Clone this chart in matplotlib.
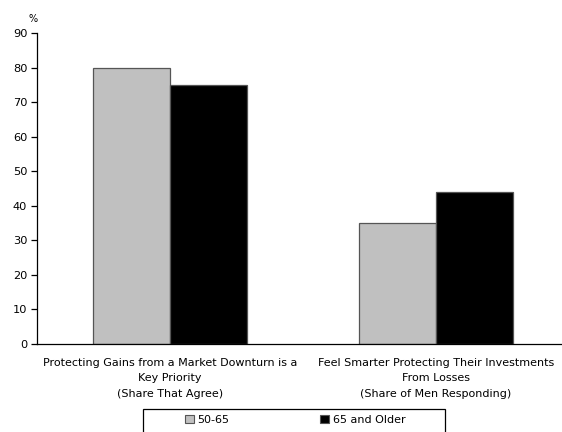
import matplotlib
matplotlib.use("Agg")
import matplotlib.pyplot as plt
import numpy as np
from matplotlib.patches import Rectangle, Patch

categories = [
    "Protecting Gains from a Market Downturn is a\nKey Priority\n(Share That Agree)",
    "Feel Smarter Protecting Their Investments\nFrom Losses\n(Share of Men Responding)",
]
series_names = ["50-65", "65 and Older"]
values_50_65 = [80, 35]
values_65_older = [75, 44]
yticks = [0, 10, 20, 30, 40, 50, 60, 70, 80, 90]

W, H = 562, 432
fig = plt.figure(figsize=(W / 100, H / 100), dpi=100)
plt.rcParams["font.family"] = ["DejaVu Sans"]

ax = fig.add_axes([37 / W, (H - 344) / H, 532 / W, 310.7 / H])

x = np.arange(len(categories))
bw = 0.29
ax.bar(x - bw / 2, values_50_65, bw, color="#c0c0c0", edgecolor="#555555",
       linewidth=0.9, label=series_names[0])
ax.bar(x + bw / 2, values_65_older, bw, color="#000000", edgecolor="#555555",
       linewidth=0.9, label=series_names[1])

ax.set_xlim(-0.5, 1.5)
ax.set_ylim(0, 90)
ax.set_yticks(yticks)
ax.set_xticks(x)
ax.set_xticklabels(categories, fontsize=8, linespacing=1.68)
ax.tick_params(axis="x", length=0, pad=10)
ax.tick_params(axis="y", length=4, width=0.9, labelsize=8.2, pad=3, direction="out")
for s in ["top", "right"]:
    ax.spines[s].set_visible(False)
for s in ["left", "bottom"]:
    ax.spines[s].set_linewidth(0.9)

fig.text(33 / W, 1 - 19 / H, "%", fontsize=7, ha="center", va="center")

# legend frame running off the bottom edge
fig.patches.append(Rectangle((143 / W, -0.05), 302 / W, 0.05 + 1 - 409 / H,
                             transform=fig.transFigure, fill=False,
                             edgecolor="black", linewidth=0.9))
handles = [Patch(facecolor="#c0c0c0", edgecolor="#555555", linewidth=0.8),
           Patch(facecolor="#000000", edgecolor="#555555", linewidth=0.8)]
fig.legend(handles, series_names, loc="center left",
           bbox_to_anchor=(185 / W, 1 - 420 / H), ncol=2, frameon=False,
           fontsize=8, handlelength=0.8, handleheight=0.8, handletextpad=0.3,
           columnspacing=8.2, borderpad=0, borderaxespad=0)

fig.savefig("out.png", dpi=100)
